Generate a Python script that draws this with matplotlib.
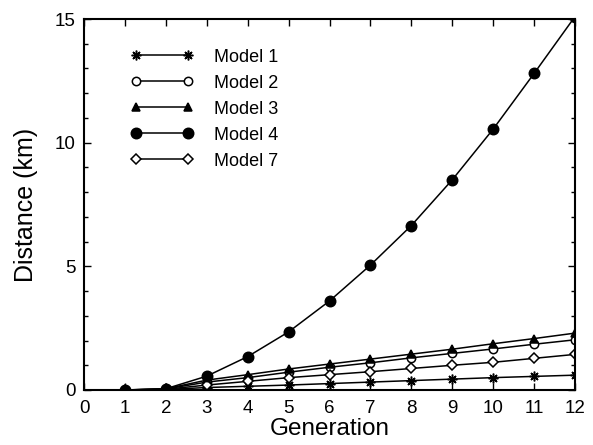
import matplotlib
matplotlib.use("Agg")
import matplotlib.pyplot as plt
from matplotlib.ticker import MultipleLocator

plt.rcParams['font.family'] = ['Liberation Sans', 'DejaVu Sans']

generation = [1, 2, 3, 4, 5, 6, 7, 8, 9, 10, 11, 12]
model1 = [0, 0.02, 0.10, 0.15, 0.20, 0.26, 0.32, 0.38, 0.44, 0.50, 0.55, 0.60]
model2 = [0, 0.04, 0.32, 0.50, 0.72, 0.92, 1.10, 1.30, 1.48, 1.66, 1.85, 2.03]
model3 = [0, 0.05, 0.40, 0.62, 0.85, 1.05, 1.25, 1.45, 1.65, 1.87, 2.08, 2.30]
model4 = [0, 0.05, 0.56, 1.35, 2.35, 3.60, 5.05, 6.65, 8.50, 10.55, 12.80, 15.10]
model7 = [0, 0.03, 0.20, 0.35, 0.50, 0.62, 0.74, 0.87, 1.00, 1.12, 1.28, 1.44]

fig = plt.figure(figsize=(5.93, 4.45), dpi=100)
ax = fig.add_axes([0.1417, 0.1236, 0.828, 0.8337])

# each series: label, data, marker, filled?, size, zorder
styles = [
    ("Model 1", model1, (8, 2, 0), True, 7, 2),
    ("Model 2", model2, "o", False, 6, 2),
    ("Model 3", model3, "^", True, 6, 2),
    ("Model 4", model4, "o", True, 7.5, 3),
    ("Model 7", model7, "D", False, 5, 2),
]
for name, vals, mk, filled, ms, z in styles:
    ax.plot(generation, vals, color="black", linewidth=1.1, marker=mk,
            markersize=ms, markerfacecolor="black" if filled else "white",
            markeredgecolor="black", markeredgewidth=1.1, label=name, zorder=z)

ax.set_xlim(0, 12)
ax.set_ylim(0, 15)
ax.set_xticks(range(0, 13))
ax.yaxis.set_major_locator(MultipleLocator(5))
ax.yaxis.set_minor_locator(MultipleLocator(1))
ax.tick_params(which="both", direction="in", top=True, right=True, labelsize=13.5)
ax.tick_params(which="major", length=5, width=1)
ax.tick_params(which="minor", length=3, width=1)
ax.tick_params(axis="x", pad=7)
ax.tick_params(axis="y", pad=6)
for s in ax.spines.values():
    s.set_linewidth(1.5)

ax.set_xlabel("Generation", fontsize=17.5, labelpad=1)
ax.set_ylabel("Distance (km)", fontsize=18, labelpad=12)

ax.legend(loc="upper left", bbox_to_anchor=(0.095, 0.92), frameon=False,
          borderpad=0, borderaxespad=0, numpoints=2, fontsize=13,
          handlelength=3.5, labelspacing=0.5, handletextpad=1.1)

fig.savefig("out.png", dpi=100)
